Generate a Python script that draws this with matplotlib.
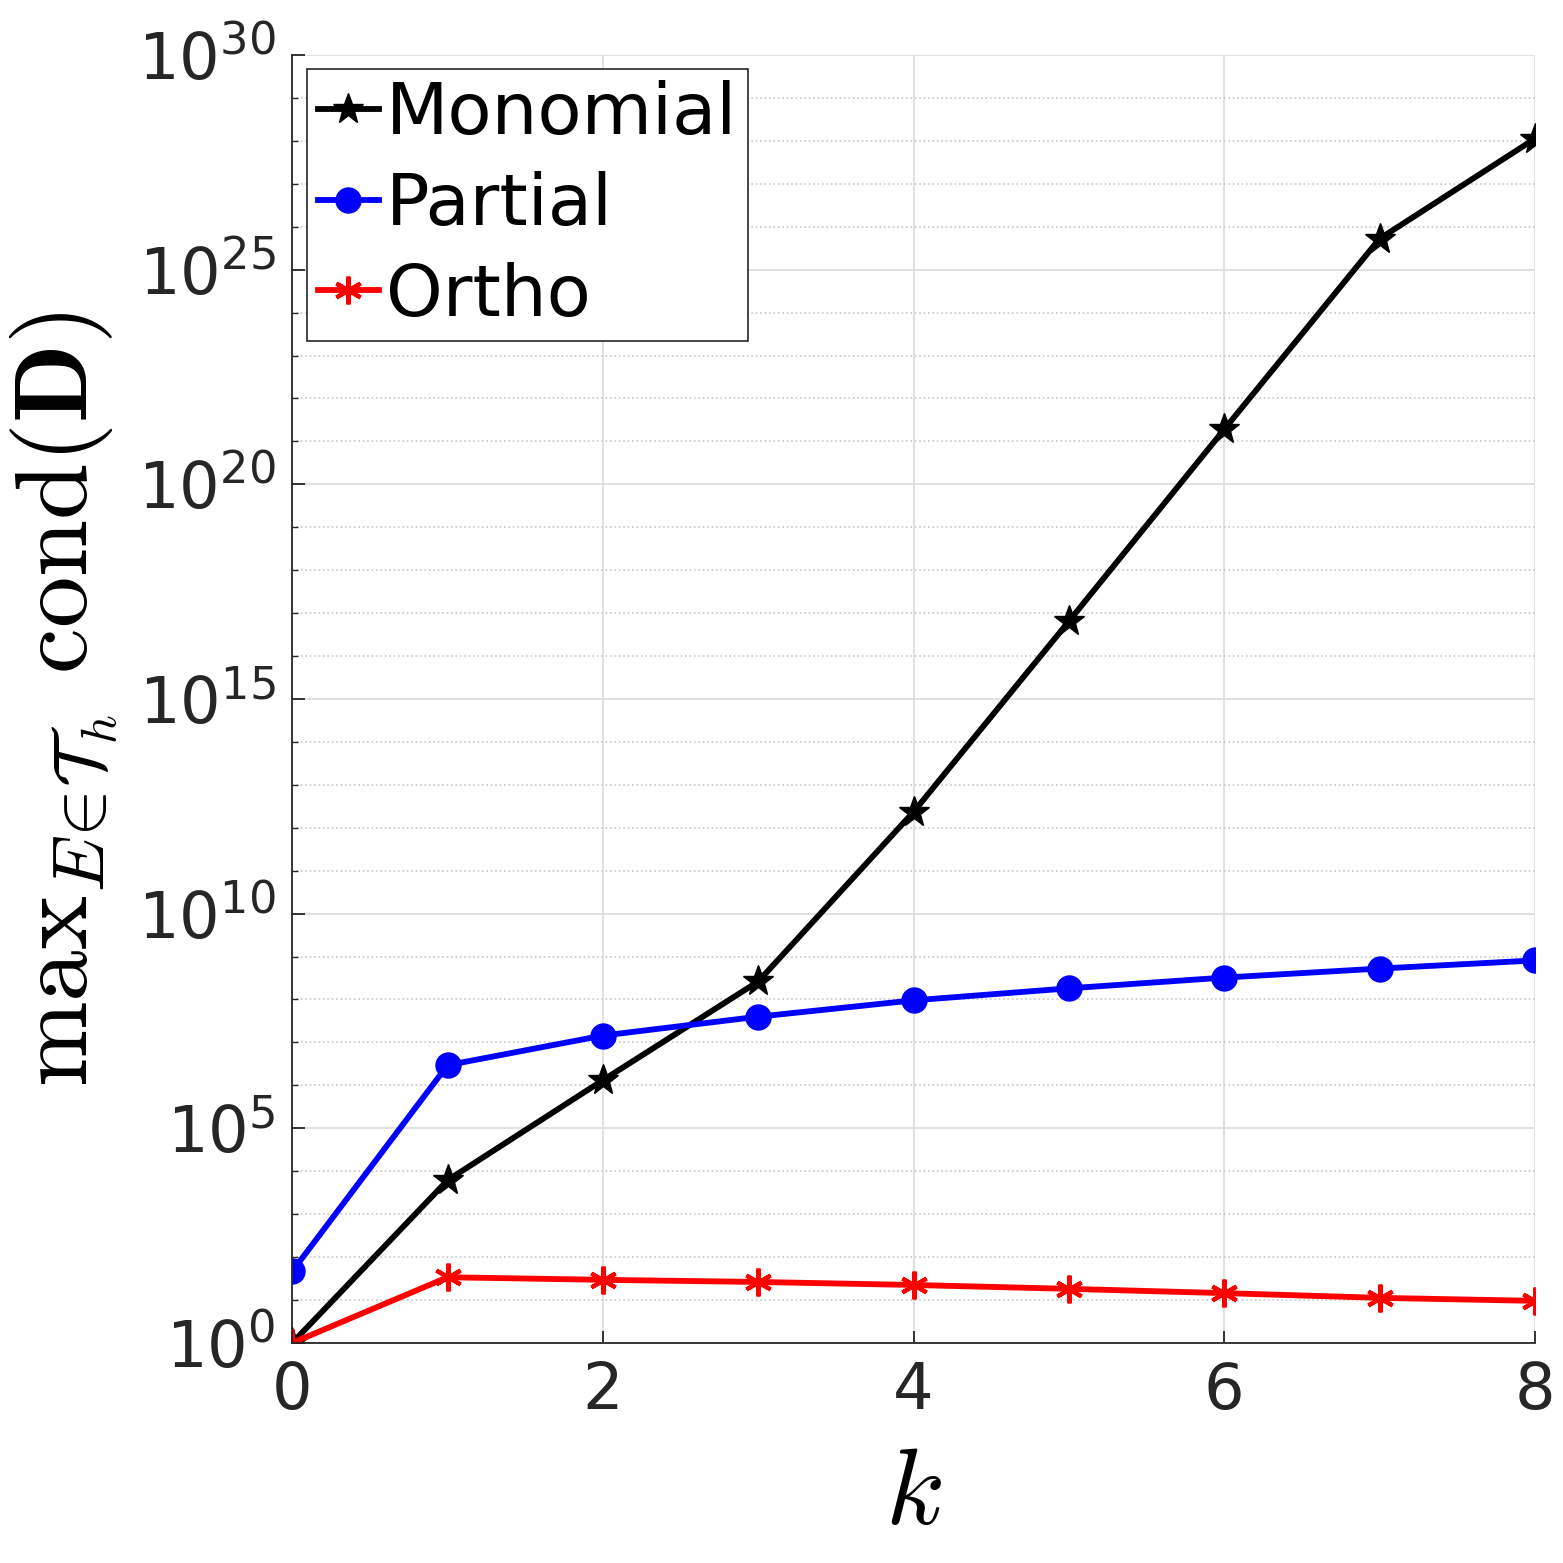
import numpy as np
import matplotlib.pyplot as plt
from matplotlib.ticker import NullFormatter

plt.rcParams['mathtext.fontset'] = 'cm'

# polynomial degree
k = np.arange(0, 9)

# exponents of max cond(D)
monomial_exp = [0.0, 3.79, 6.12, 8.42, 12.37, 16.81, 21.28, 25.72, 28.05]
partial_exp = [1.67, 6.47, 7.16, 7.60, 7.98, 8.26, 8.51, 8.72, 8.91]
ortho_exp = [0.0, 1.53, 1.47, 1.42, 1.35, 1.26, 1.16, 1.05, 0.98]

monomial = 10.0 ** np.array(monomial_exp)
partial = 10.0 ** np.array(partial_exp)
ortho = 10.0 ** np.array(ortho_exp)

fig = plt.figure(figsize=(15.63, 15.63), dpi=100)
ax = fig.add_axes([0.187, 0.1408, 0.795, 0.824])

ax.semilogy(k, monomial, '-', color='k', lw=4.2, marker='*', ms=23, label='Monomial')
ax.semilogy(k, partial, '-', color='b', lw=4.2, marker='o', ms=18, label='Partial')
ax.semilogy(k, ortho, '-', color='r', lw=4.2, marker=(6, 2, 0), ms=20, mew=3, label='Ortho')

ax.set_xlim(0, 8)
ax.set_ylim(1, 1e30)
ax.set_xticks([0, 2, 4, 6, 8])
ax.set_yticks([10.0 ** e for e in range(0, 31, 5)])
ax.set_yticks([10.0 ** e for e in range(0, 31) if e % 5 != 0], minor=True)
ax.yaxis.set_minor_formatter(NullFormatter())

ax.grid(which='major', color='#dedede', lw=1.3, ls='-')
ax.grid(which='minor', axis='y', color='#c8c8c8', lw=1.2, ls=':')
ax.set_axisbelow(True)

for s in ['top', 'right']:
    ax.spines[s].set_visible(False)
for s in ['left', 'bottom']:
    ax.spines[s].set_color('#262626')
    ax.spines[s].set_linewidth(1.3)

ax.tick_params(which='major', direction='in', length=9, width=1.3,
               labelsize=46, colors='#262626', pad=12)
ax.tick_params(which='minor', direction='in', length=4.5, width=1.0, colors='#262626')

ax.set_xlabel(r'$k$', fontsize=78, labelpad=14)
ax.set_ylabel(r'$\mathrm{max}_{E\!\in\!\mathcal{T}_h}\ \mathrm{cond}(\mathbf{D})$', fontsize=74, labelpad=12)

leg = ax.legend(loc='upper left', fontsize=52, fancybox=False, framealpha=1,
                edgecolor='#262626', handlelength=0.85, handletextpad=0.1,
                borderpad=0.15, labelspacing=0.3, borderaxespad=0.2)
leg.get_frame().set_linewidth(1.2)

fig.savefig('out.png', dpi=100)
